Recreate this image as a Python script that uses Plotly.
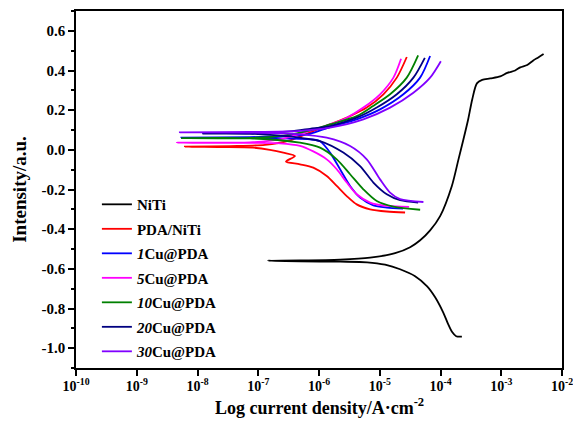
import plotly.graph_objects as go

# ---------------- data (log10 current density, potential) ----------------
# NiTi: anodic branch from nose, cathodic branch from nose
niti_up_logi = [-6.841, -6.313, -5.653, -5.159, -4.747, -4.500, -4.335, -4.171, -4.006, -3.813, -3.704,
                -3.622, -3.544, -3.478, -3.401, -3.314, -3.182, -3.017, -2.901, -2.771, -2.687, -2.572,
                -2.473, -2.391, -2.303]
niti_up_E = [-0.559, -0.558, -0.554, -0.544, -0.521, -0.491, -0.456, -0.406, -0.334, -0.182, -0.048,
             0.053, 0.154, 0.254, 0.335, 0.353, 0.360, 0.370, 0.388, 0.400, 0.416, 0.428,
             0.451, 0.466, 0.483]
niti_dn_logi = [-6.313, -5.653, -5.208, -4.912, -4.665, -4.418, -4.220, -4.088, -3.956, -3.874, -3.808, -3.742, -3.648]
niti_dn_E = [-0.562, -0.564, -0.567, -0.579, -0.602, -0.637, -0.688, -0.743, -0.819, -0.879, -0.919, -0.940, -0.942]

# PDA/NiTi
pda_dn_logi = [-4.583, -4.884, -5.159, -5.379, -5.543, -5.708, -5.873, -6.094, -6.313, -6.544, -6.396,
               -6.588, -6.808, -7.088, -7.632, -8.208]
pda_dn_E = [-0.316, -0.311, -0.300, -0.275, -0.233, -0.182, -0.132, -0.090, -0.073, -0.059, -0.031,
            -0.014, 0.000, 0.011, 0.014, 0.016]
pda_up_logi = [-7.467, -6.890, -6.478, -6.148, -5.818, -5.488, -5.214, -4.940, -4.719, -4.555]
pda_up_E = [0.019, 0.025, 0.048, 0.088, 0.128, 0.170, 0.213, 0.280, 0.364, 0.468]

# 1Cu@PDA
cu1_dn_logi = [-4.616, -4.884, -5.105, -5.324, -5.488, -5.653, -5.818, -5.983, -6.148, -6.478, -7.137, -8.266]
cu1_dn_E = [-0.296, -0.291, -0.280, -0.241, -0.182, -0.098, -0.014, 0.043, 0.053, 0.057, 0.059, 0.061]
cu1_up_logi = [-7.137, -6.478, -6.148, -5.818, -5.379, -4.995, -4.611, -4.336, -4.171]
cu1_up_E = [0.064, 0.071, 0.081, 0.115, 0.154, 0.204, 0.280, 0.364, 0.473]

# 5Cu@PDA
cu5_dn_logi = [-4.517, -4.884, -5.159, -5.379, -5.543, -5.708, -5.873, -6.094, -6.313, -6.643, -7.137, -8.340]
cu5_dn_E = [-0.288, -0.283, -0.266, -0.224, -0.165, -0.098, -0.048, -0.008, 0.020, 0.033, 0.035, 0.036]
cu5_up_logi = [-7.137, -6.643, -6.230, -5.818, -5.543, -5.270, -4.995, -4.775, -4.649]
cu5_up_E = [0.038, 0.053, 0.088, 0.128, 0.162, 0.213, 0.280, 0.364, 0.459]

# 10Cu@PDA
cu10_dn_logi = [-4.335, -4.775, -5.049, -5.270, -5.488, -5.708, -5.983, -6.313, -7.137, -8.258]
cu10_dn_E = [-0.302, -0.286, -0.258, -0.199, -0.123, -0.048, 0.011, 0.036, 0.058, 0.059]
cu10_up_logi = [-7.137, -6.560, -6.148, -5.818, -5.379, -5.110, -4.830, -4.555, -4.368]
cu10_up_E = [0.060, 0.073, 0.098, 0.128, 0.170, 0.221, 0.280, 0.364, 0.476]

# 20Cu@PDA
cu20_dn_logi = [-4.368, -4.665, -4.884, -5.105, -5.324, -5.600, -5.983, -6.313, -7.137, -7.912]
cu20_dn_E = [-0.266, -0.254, -0.224, -0.165, -0.082, -0.014, 0.044, 0.061, 0.081, 0.082]
cu20_up_logi = [-7.137, -6.478, -6.148, -5.818, -5.379, -5.049, -4.719, -4.446, -4.258]
cu20_up_E = [0.083, 0.093, 0.106, 0.120, 0.162, 0.213, 0.280, 0.364, 0.464]

# 30Cu@PDA
cu30_dn_logi = [-4.281, -4.665, -4.830, -4.995, -5.214, -5.488, -5.873, -6.313, -7.137, -8.291]
cu30_dn_E = [-0.263, -0.249, -0.216, -0.149, -0.048, 0.019, 0.061, 0.078, 0.087, 0.088]
cu30_up_logi = [-7.137, -6.313, -5.818, -5.270, -4.830, -4.446, -4.171, -3.994]
cu30_up_E = [0.090, 0.096, 0.112, 0.154, 0.213, 0.288, 0.364, 0.447]

names = ["NiTi", "PDA/NiTi", "<i>1</i>Cu@PDA", "<i>5</i>Cu@PDA", "<i>10</i>Cu@PDA",
         "<i>20</i>Cu@PDA", "<i>30</i>Cu@PDA"]
colors = ["#000000", "#FF0000", "#0000FF", "#FF00FF", "#008000", "#000080", "#8000FF"]

x_tick_exps = list(range(-10, -1))
x_tick_text = ["10<sup>%d</sup>" % e for e in x_tick_exps]
y_tick_vals = [0.6, 0.4, 0.2, 0.0, -0.2, -0.4, -0.6, -0.8, -1.0]
y_tick_text = ["0.6", "0.4", "0.2", "0.0", "-0.2", "-0.4", "-0.6", "-0.8", "-1.0"]
x_title = "Log current density/A·cm<sup>-2</sup>"
y_title = "Intensity/a.u."

# ---------------- build series ----------------
series = [
    (list(reversed(niti_up_logi)) + niti_dn_logi, list(reversed(niti_up_E)) + niti_dn_E),
    (pda_dn_logi + pda_up_logi, pda_dn_E + pda_up_E),
    (cu1_dn_logi + cu1_up_logi, cu1_dn_E + cu1_up_E),
    (cu5_dn_logi + cu5_up_logi, cu5_dn_E + cu5_up_E),
    (cu10_dn_logi + cu10_up_logi, cu10_dn_E + cu10_up_E),
    (cu20_dn_logi + cu20_up_logi, cu20_dn_E + cu20_up_E),
    (cu30_dn_logi + cu30_up_logi, cu30_dn_E + cu30_up_E),
]

FONT = "Liberation Serif, Times New Roman, serif"
fig = go.Figure()
for i, ((lx, ey), nm, c) in enumerate(zip(series, names, colors)):
    fig.add_trace(go.Scatter(
        x=[10 ** v for v in lx], y=ey, mode="lines", name=nm,
        legendgroup="g%d" % i,
        line=dict(color=c, width=1.8, shape="spline", smoothing=0.8),
    ))

fig.update_layout(
    width=573, height=423,
    margin=dict(l=76, r=11, t=11, b=55, autoexpand=False),
    paper_bgcolor="white", plot_bgcolor="white",
    font=dict(family=FONT, size=14, color="black", weight="bold"),
    showlegend=True,
    legend=dict(x=0.043, y=0.504, xanchor="left", yanchor="top",
                bgcolor="rgba(0,0,0,0)", tracegroupgap=2,
                font=dict(family=FONT, size=15, color="black", weight="bold")),
)
fig.add_annotation(
    text=x_title, xref="paper", yref="paper", x=0.5, y=-0.108,
    xanchor="center", yanchor="middle", showarrow=False,
    font=dict(family=FONT, size=18, color="black", weight="bold"),
)
fig.update_xaxes(
    type="log", range=[-10, -2], automargin=False,
    tickvals=[10 ** e for e in x_tick_exps], ticktext=x_tick_text,
    ticks="outside", ticklen=6, tickwidth=1.5, tickcolor="black",
    ticklabelstandoff=-2, ticklabeloverflow="allow",
    showline=True, linewidth=1.5, linecolor="black", mirror=True,
    showgrid=False, zeroline=False,
    tickfont=dict(family=FONT, size=14, color="black", weight="bold"),
)
fig.update_yaxes(
    range=[-1.1, 0.7], automargin=False,
    tickvals=y_tick_vals, ticktext=y_tick_text,
    ticks="outside", ticklen=6, tickwidth=1.5, tickcolor="black",
    minor=dict(dtick=0.1, tick0=0, ticks="outside", ticklen=3, tickwidth=1.5, tickcolor="black"),
    showline=True, linewidth=1.5, linecolor="black", mirror=True,
    showgrid=False, zeroline=False,
    tickfont=dict(family=FONT, size=15, color="black", weight="bold"),
    title=dict(text=y_title, standoff=10,
               font=dict(family=FONT, size=19, color="black", weight="bold")),
)

fig.write_html("out.html")
